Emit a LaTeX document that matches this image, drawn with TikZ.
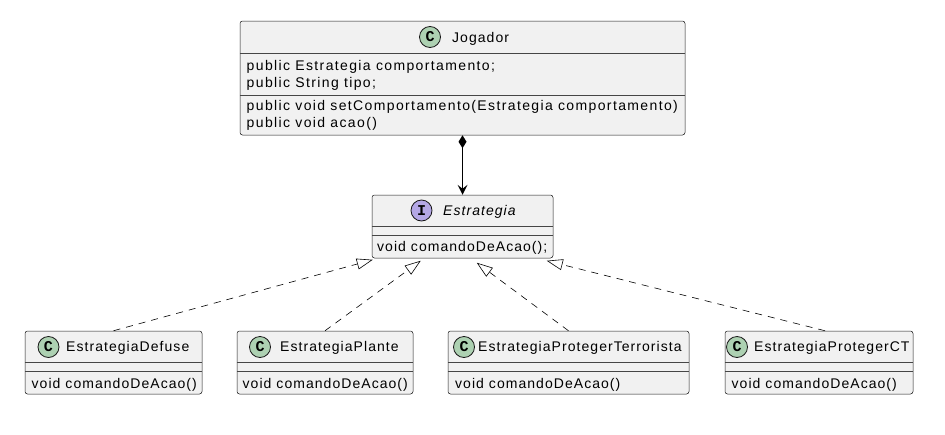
\documentclass[tikz,border=0pt]{standalone}
\usepackage{fontspec}
\setmainfont{Liberation Sans}[LetterSpace=7.5]
\newfontfamily\widefont{Liberation Sans}[LetterSpace=9.8]
\newfontfamily\spotfont{Liberation Mono}[BoldFont=* Bold]
\usetikzlibrary{arrows.meta,calc}
\definecolor{boxfill}{HTML}{F1F1F1}
\definecolor{boxline}{HTML}{181818}
\definecolor{spotC}{HTML}{ADD1B2}
\definecolor{spotI}{HTML}{B4A7E5}
\begin{document}
\begin{tikzpicture}[x=1pt,y=-1pt,
  umlbox/.style={draw=boxline, line width=0.5pt, fill=boxfill, rounded corners=2.5pt, inner sep=0pt},
  sep/.style={draw=boxline!80, line width=0.5pt},
  txt/.style={inner sep=0pt, anchor=base west, font=\fontsize{14}{16}\selectfont, text=black},
  wtxt/.style={txt, font=\widefont\fontsize{14}{16}\selectfont},
  spot/.style={circle, draw=boxline, line width=0.8pt, minimum size=21pt, inner sep=0pt, font=\spotfont\bfseries\fontsize{15}{15}\selectfont},
  real/.style={draw=black, line width=0.6pt, dash pattern=on 7pt off 6pt, -{Triangle[open, length=16pt, width=11pt, line width=0.6pt]}},
]
\useasboundingbox (0,0) rectangle (945,434);
\fill[white] (0,0) rectangle (945,434);

% ---- Jogador
\node[umlbox, minimum width=445pt, minimum height=114pt] (jog) at (462.5,78) {};
\draw[sep] (jog.west |- 0,53.5) -- (jog.east |- 0,53.5);
\draw[sep] (jog.west |- 0,95) -- (jog.east |- 0,95);
\node[spot, fill=spotC] (jogspot) at (430,37) {C};
\node[txt] (jogname) at (452,42) {Jogador};
\node[wtxt] (ja1) at (246.5,70) {public Estrategia comportamento;};
\node[wtxt] (ja2) at (246.5,87) {public String tipo;};
\node[wtxt] (jm1) at (246.5,110.5) {public void setComportamento(Estrategia comportamento)};
\node[wtxt] (jm2) at (246.5,127) {public void acao()};

% ---- Estrategia
\node[umlbox, minimum width=181pt, minimum height=63pt] (estr) at (462.5,226.5) {};
\draw[sep] (estr.west |- 0,226) -- (estr.east |- 0,226);
\draw[sep] (estr.west |- 0,235) -- (estr.east |- 0,235);
\node[spot, fill=spotI] (estrspot) at (421.5,210.5) {I};
\node[txt, font=\fontsize{14}{16}\selectfont\itshape] (estrname) at (443,215.5) {Estrategia};
\node[txt] (em1) at (377,251) {void comandoDeAcao();};

% ---- bottom classes
\node[umlbox, minimum width=177pt, minimum height=63pt] (def) at (113.5,362.5) {};
\node[umlbox, minimum width=176pt, minimum height=63pt] (pla) at (325,362.5) {};
\node[umlbox, minimum width=241pt, minimum height=63pt] (ter) at (568.5,362.5) {};
\node[umlbox, minimum width=188pt, minimum height=63pt] (pct) at (819,362.5) {};
\foreach \b in {def,pla,ter,pct}{
  \draw[sep] (\b.west |- 0,362) -- (\b.east |- 0,362);
  \draw[sep] (\b.west |- 0,371) -- (\b.east |- 0,371);
}
\node[spot, fill=spotC] (defspot) at (48.5,347) {C};
\node[txt] (defname) at (66,351) {EstrategiaDefuse};
\node[txt] (defm) at (31.5,388) {void comandoDeAcao()};
\node[spot, fill=spotC] (plaspot) at (260,347) {C};
\node[txt] (planame) at (280,351) {EstrategiaPlante};
\node[txt] (plam) at (242.5,388) {void comandoDeAcao()};
\node[spot, fill=spotC] (terspot) at (464,347) {C};
\node[txt] (tername) at (478,351) {EstrategiaProtegerTerrorista};
\node[txt] (term) at (455,388) {void comandoDeAcao()};
\node[spot, fill=spotC] (pctspot) at (737,347) {C};
\node[txt] (pctname) at (754,351) {EstrategiaProtegerCT};
\node[txt] (pctm) at (731.5,388) {void comandoDeAcao()};

% ---- composition Jogador -> Estrategia
\coordinate (dtop) at (jog.south);
\coordinate (dbot) at ($(jog.south)+(0,13)$);
\fill[black] (dtop) -- ++(4,6.5) -- (dbot) -- ++(-4,-6.5) -- cycle;
\draw[black, line width=0.7pt] (dbot) -- ($(estr.north)+(0,-4)$);
\fill[black] (estr.north) -- ++(-5,-10) -- ++(5,4) -- ++(5,-4) -- cycle;

% ---- realizations
\coordinate (t1) at ($(estr.south west)+(1,1.5)$);
\coordinate (t2) at ($(estr.south west)+(49,2.5)$);
\coordinate (t3) at ($(estr.south west)+(105,4.5)$);
\coordinate (t4) at ($(estr.south west)+(175,2.5)$);
\draw[real] (def.north) -- (t1);
\draw[real] (pla.north) -- (t2);
\draw[real] (ter.north) -- (t3);
\draw[real] ($(pct.north)+(6,0)$) -- (t4);
\end{tikzpicture}
\end{document}
